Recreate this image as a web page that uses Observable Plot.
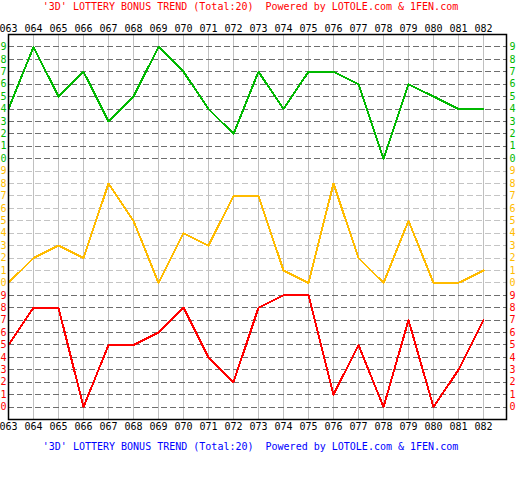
<!DOCTYPE html>
<html>
<head>
<meta charset="utf-8">
<script src="https://cdn.jsdelivr.net/npm/d3@7"></script>
<script src="https://cdn.jsdelivr.net/npm/@observablehq/plot@0.6"></script>
<style>
  body { margin: 0; background: #fff; }
  .cap { font: 10px "DejaVu Sans Mono", monospace; height: 14px; line-height: 14px; width: 501px; text-align: center; white-space: pre; }
  #top { color: #ff0000; }
  #bottom { color: #0000ff; }
  svg { display: block; }
</style>
</head>
<body>
<div id="top" class="cap"></div>
<div id="chart"></div>
<div id="bottom" class="cap"></div>
<script>
const titleText = "'3D' LOTTERY BONUS TREND (Total:20)  Powered by LOTOLE.com & 1FEN.com";
const periods = ["063","064","065","066","067","068","069","070","071","072","073","074","075","076","077","078","079","080","081","082"];
const green  = [4,9,5,7,3,5,9,7,4,2,7,4,7,7,6,0,6,5,4,4];
const yellow = [0,2,3,2,8,5,0,4,3,7,7,1,0,8,2,0,5,0,0,1];
const red    = [5,8,8,0,5,5,6,8,4,2,8,9,9,1,5,0,7,0,3,7];
const digits = [0,1,2,3,4,5,6,7,8,9];

const groups = [
  {name: "green",  values: green,  offset: 20, color: "#00b800", grid: "#6e6e6e"},
  {name: "yellow", values: yellow, offset: 10, color: "#ffbb00", grid: "#c4c4c4"},
  {name: "red",    values: red,    offset: 0,  color: "#ff0000", grid: "#6e6e6e"}
];

document.getElementById("top").textContent = titleText;
document.getElementById("bottom").textContent = titleText;

const marks = [];
// vertical grid
marks.push(Plot.ruleX(periods, {x: d => d, stroke: "#c0c0c0", strokeWidth: 1, shapeRendering: "crispEdges"}));
// horizontal dashed grid per group
for (const g of groups) {
  marks.push(Plot.ruleY(digits, {y: d => d + g.offset, stroke: g.grid, strokeWidth: 1, strokeDasharray: "6,3", shapeRendering: "crispEdges"}));
}
// series lines
for (const g of groups) {
  const data = periods.map((p, i) => ({period: p, row: g.values[i] + g.offset}));
  marks.push(Plot.line(data, {x: "period", y: "row", stroke: g.color, strokeWidth: 2, shapeRendering: "crispEdges"}));
}
// y labels on both sides
for (const g of groups) {
  marks.push(Plot.text(digits, {y: d => d + g.offset, text: d => String(d), frameAnchor: "left", dx: -5, textAnchor: "middle", fill: g.color}));
  marks.push(Plot.text(digits, {y: d => d + g.offset, text: d => String(d), frameAnchor: "right", dx: 6, textAnchor: "middle", fill: g.color}));
}
marks.push(Plot.frame({stroke: "#000", strokeWidth: 1.5}));
marks.push(Plot.axisX({anchor: "top", tickSize: 0, tickPadding: 3, fill: "#000", label: null}));
marks.push(Plot.axisX({anchor: "bottom", tickSize: 0, tickPadding: 3, fill: "#000", label: null}));

const chart = Plot.plot({
  width: 518,
  height: 426,
  marginTop: 20,
  marginBottom: 21,
  marginLeft: 8,
  marginRight: 12,
  style: {fontFamily: "'DejaVu Sans Mono', monospace", fontSize: "10px", background: "#fff", overflow: "visible", color: "#000"},
  x: {type: "point", domain: periods, range: [8, 483], padding: 0, label: null},
  y: {domain: [-1, 30], axis: null},
  marks
});
document.getElementById("chart").appendChild(chart);
</script>
</body>
</html>
